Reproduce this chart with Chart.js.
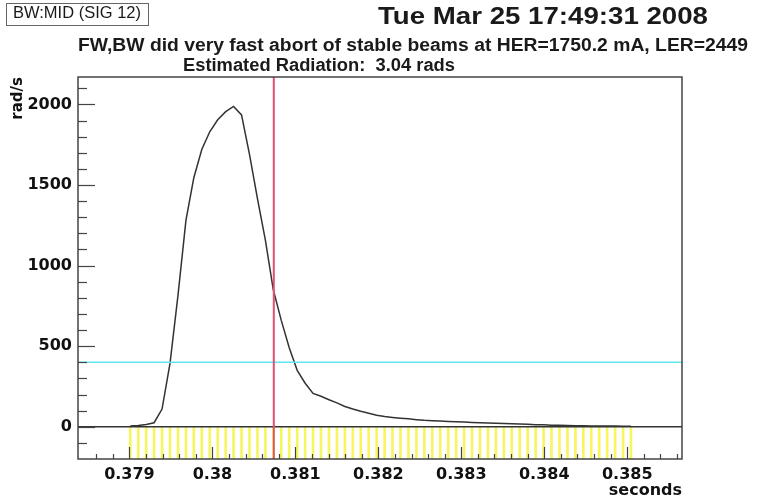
<!DOCTYPE html>
<html>
<head>
<meta charset="utf-8">
<script src="https://cdn.jsdelivr.net/npm/chart.js@4"></script>
<style>
  body { margin: 0; background: #fff; }
  #wrap { position: relative; width: 760px; height: 503px; overflow: hidden; background: #fff; }
  #graph { position: absolute; left: 0; top: 0; }
  .hdr { position: absolute; white-space: nowrap; font-family: "Liberation Sans", Arial, sans-serif; font-weight: bold; color: #1a1a1a; transform-origin: 0 0; }
  #sigbox { position: absolute; left: 6px; top: 3px; width: 141px; height: 21px; border: 1px solid #666; }
  #sig { left: 13px; top: 3px; font-size: 17px; font-weight: normal; }
  #stamp { left: 378px; top: 2px; font-size: 24px; }
  #abort { left: 78px; top: 35px; font-size: 18px; }
  #dose { left: 183px; top: 55px; font-size: 18px; }
</style>
</head>
<body>
<div id="wrap">
  <canvas id="graph" width="760" height="503"></canvas>
  <div id="sigbox"></div>
  <div class="hdr" id="sig" data-w="128">BW:MID (SIG 12)</div>
  <div class="hdr" id="stamp" data-w="330">Tue Mar 25 17:49:31 2008</div>
  <div class="hdr" id="abort" data-w="670">FW,BW did very fast abort of stable beams at HER=1750.2 mA, LER=2449</div>
  <div class="hdr" id="dose" data-w="272">Estimated Radiation:&nbsp; 3.04 rads</div>
</div>
<script>
// sample times of the radiation monitor (seconds)
const sampleTimes = [
  0.379010, 0.379106, 0.379202, 0.379297, 0.379393, 0.379489, 0.379585, 0.379681,
  0.379776, 0.379872, 0.379968, 0.380064, 0.380160, 0.380255, 0.380351, 0.380447,
  0.380543, 0.380639, 0.380734, 0.380830, 0.380926, 0.381022, 0.381118, 0.381213,
  0.381309, 0.381405, 0.381501, 0.381597, 0.381692, 0.381788, 0.381884, 0.381980,
  0.382076, 0.382171, 0.382267, 0.382363, 0.382459, 0.382555, 0.382650, 0.382746,
  0.382842, 0.382938, 0.383034, 0.383129, 0.383225, 0.383321, 0.383417, 0.383513,
  0.383608, 0.383704, 0.383800, 0.383896, 0.383992, 0.384087, 0.384183, 0.384279,
  0.384375, 0.384471, 0.384566, 0.384662, 0.384758, 0.384854, 0.384950, 0.385045
];

// dose rate at each sample (rad/s)
const doseRates = [
  4, 8, 14, 25, 110, 393, 815, 1280,
  1545, 1720, 1830, 1905, 1955, 1987, 1935, 1690,
  1415, 1157, 850, 660, 490, 350, 270, 207,
  189, 168, 148, 126, 110, 96, 84, 72,
  63, 58, 53, 49, 44, 40, 38, 35,
  33, 31, 29, 27, 25, 24, 22, 20,
  19, 17, 15, 13, 12, 10, 9, 8,
  7, 6, 5, 5, 4, 4, 3, 3
];

const xTickValues = [0.379, 0.380, 0.381, 0.382, 0.383, 0.384, 0.385];
const xTickLabels = ['0.379', '0.38', '0.381', '0.382', '0.383', '0.384', '0.385'];
const yTickValues = [0, 500, 1000, 1500, 2000];
const yTickLabels = ['0', '500', '1000', '1500', '2000'];

const abortTime = 0.38074;   // red marker
const alarmLevel = 400;      // cyan threshold

const X_MIN = 0.37838, X_MAX = 0.38566;
const Y_MIN = -200, Y_MAX = 2170;

const tickFont = { family: 'DejaVu Sans', weight: 'bold', size: 16 };

// frame, inward ticks and the marker lines, ROOT style
const framePlugin = {
  id: 'frame',
  afterDatasetsDraw(chart) {
    const { ctx, chartArea: a, scales: { x, y } } = chart;
    ctx.save();

    // zero line
    ctx.strokeStyle = '#333';
    ctx.lineWidth = 1.5;
    ctx.beginPath();
    ctx.moveTo(a.left, y.getPixelForValue(0));
    ctx.lineTo(a.right, y.getPixelForValue(0));
    ctx.stroke();

    // threshold
    ctx.strokeStyle = '#5fe6ef';
    ctx.lineWidth = 1.5;
    ctx.beginPath();
    ctx.moveTo(a.left, y.getPixelForValue(alarmLevel));
    ctx.lineTo(a.right, y.getPixelForValue(alarmLevel));
    ctx.stroke();

    // abort time
    ctx.strokeStyle = '#e0506f';
    ctx.lineWidth = 2;
    ctx.beginPath();
    ctx.moveTo(x.getPixelForValue(abortTime), a.top);
    ctx.lineTo(x.getPixelForValue(abortTime), a.bottom);
    ctx.stroke();

    // frame
    ctx.strokeStyle = '#444';
    ctx.lineWidth = 1.5;
    ctx.strokeRect(a.left, a.top, a.right - a.left, a.bottom - a.top);

    // y ticks
    ctx.lineWidth = 1.2;
    for (let v = -100; v < Y_MAX; v += 100) {
      const py = Math.round(y.getPixelForValue(v)) + 0.5;
      const len = v % 500 === 0 ? 17 : 9;
      ctx.beginPath();
      ctx.moveTo(a.left, py);
      ctx.lineTo(a.left + len, py);
      ctx.stroke();
    }
    // x ticks
    for (let i = 1; i <= 36; i++) {
      const v = 0.3784 + i * 0.0002;
      if (v >= X_MAX) break;
      const px = Math.round(x.getPixelForValue(v)) + 0.5;
      const major = (i - 3) % 5 === 0;
      ctx.beginPath();
      ctx.moveTo(px, a.bottom);
      ctx.lineTo(px, a.bottom - (major ? 12 : 5));
      ctx.stroke();
    }
    ctx.restore();
  }
};

new Chart(document.getElementById('graph'), {
  type: 'line',
  data: {
    datasets: [{
      type: 'line',
      data: sampleTimes.map((t, i) => ({ x: t, y: doseRates[i] })),
      borderColor: '#333',
      borderWidth: 1.5,
      pointRadius: 0,
      tension: 0,
      order: 1
    }, {
      type: 'bar',
      data: sampleTimes.map(t => ({ x: t, y: [Y_MIN, 0] })),
      backgroundColor: '#f6f660',
      borderWidth: 0,
      barThickness: 2,
      order: 2
    }]
  },
  options: {
    responsive: false,
    animation: false,
    layout: { padding: { top: 77, right: 78, left: 0, bottom: 0 } },
    plugins: { legend: { display: false }, tooltip: { enabled: false } },
    scales: {
      x: {
        type: 'linear',
        min: X_MIN,
        max: X_MAX,
        offset: false,
        grid: { display: false, drawTicks: false },
        border: { display: false },
        afterBuildTicks: s => { s.ticks = xTickValues.map(v => ({ value: v })); },
        afterFit: s => { s.height = 44; },
        ticks: {
          callback: (v, i) => xTickLabels[i],
          padding: 6,
          color: '#111',
          font: tickFont,
          maxRotation: 0,
          autoSkip: false
        },
        title: {
          display: true,
          text: 'seconds',
          align: 'end',
          color: '#111',
          font: tickFont,
          padding: { top: 0, bottom: 3 }
        }
      },
      y: {
        type: 'linear',
        min: Y_MIN,
        max: Y_MAX,
        grid: { display: false, drawTicks: false },
        border: { display: false },
        afterBuildTicks: s => { s.ticks = yTickValues.map(v => ({ value: v })); },
        afterFit: s => { s.width = 78; },
        ticks: {
          callback: (v, i) => yTickLabels[i],
          padding: 6,
          color: '#111',
          font: tickFont,
          autoSkip: false
        },
        title: {
          display: true,
          text: 'rad/s',
          align: 'end',
          color: '#111',
          font: { family: 'DejaVu Sans', weight: 'bold', size: 15 },
          padding: { top: 9, bottom: 0 }
        }
      }
    }
  },
  plugins: [framePlugin]
});

// stretch the header lines to the widths seen in the picture
document.querySelectorAll('.hdr').forEach(el => {
  const w = el.getBoundingClientRect().width;
  el.style.transform = 'scaleX(' + (el.dataset.w / w) + ')';
});
</script>
</body>
</html>
